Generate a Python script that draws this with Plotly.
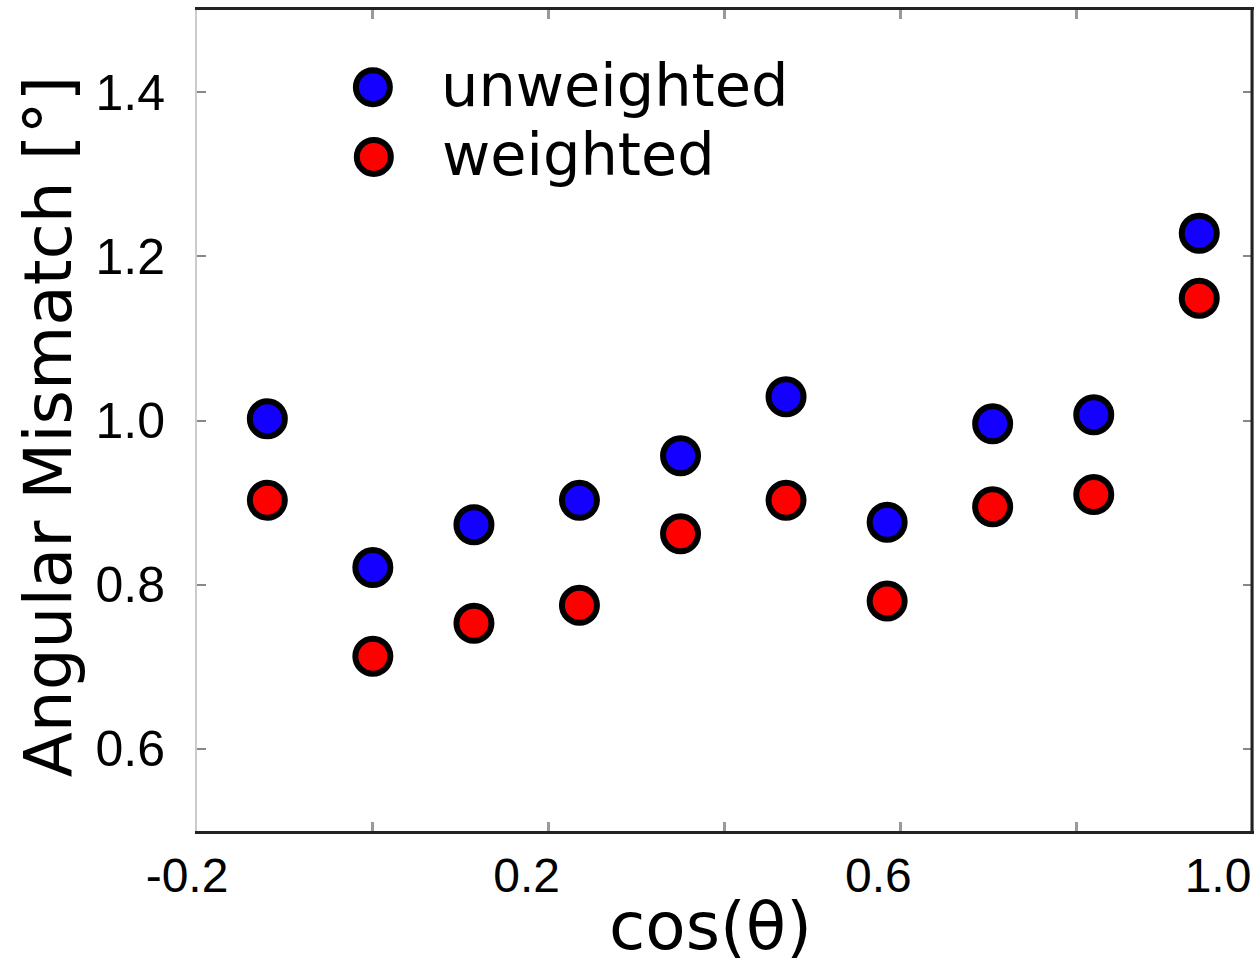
import plotly.graph_objects as go

cos_theta = [-0.12, 0.0, 0.115, 0.235, 0.35, 0.47, 0.585, 0.705, 0.82, 0.94]
unweighted = [1.002, 0.821, 0.873, 0.903, 0.957, 1.029, 0.876, 0.996, 1.007, 1.228]
weighted = [0.903, 0.713, 0.753, 0.775, 0.862, 0.903, 0.780, 0.895, 0.910, 1.149]

x_tickvals = [-0.2, 0.0, 0.2, 0.4, 0.6, 0.8, 1.0]
x_ticktext = ["\u2002-0.2", "", "0.2", "", "0.6", "", "1.0\u2002"]
y_tickvals = [0.6, 0.8, 1.0, 1.2, 1.4]
y_ticktext = ["0.6", "0.8", "1.0", "1.2", "1.4"]

BLUE = "#1400ff"
RED = "#ff0000"

fig = go.Figure()
fig.add_trace(go.Scatter(x=cos_theta, y=unweighted, mode="markers", name="unweighted",
                         marker=dict(size=35, color=BLUE, line=dict(color="black", width=6))))
fig.add_trace(go.Scatter(x=cos_theta, y=weighted, mode="markers", name="weighted",
                         marker=dict(size=35, color=RED, line=dict(color="black", width=6))))

fig.update_layout(
    width=1257, height=960,
    margin=dict(l=197, r=5, t=10, b=129, autoexpand=False),
    paper_bgcolor="white", plot_bgcolor="white",
    showlegend=False,
    xaxis=dict(range=[-0.2, 1.0], tickvals=x_tickvals, ticktext=x_ticktext,
               ticks="inside", ticklen=9, tickwidth=3, tickcolor="#999999",
               showgrid=False, zeroline=False, showline=True, linecolor="#222222",
               linewidth=3, mirror="ticks", ticklabelshift=-22, ticklabelstandoff=0,
               automargin=False, ticklabeloverflow="allow",
               tickfont=dict(family="Liberation Sans", size=48, color="black")),
    yaxis=dict(range=[0.5, 1.5], tickvals=y_tickvals, ticktext=y_ticktext,
               ticks="inside", ticklen=9, tickwidth=2, tickcolor="#888888",
               showgrid=False, zeroline=False, showline=True, linecolor="#cccccc",
               linewidth=2, mirror="ticks", ticklabelstandoff=20,
               automargin=False,
               tickfont=dict(family="Liberation Sans", size=50, color="black")),
)

# right frame line (dark)
fig.add_shape(type="line", xref="paper", yref="paper", x0=1, x1=1, y0=0, y1=1,
              line=dict(color="#222222", width=3))

# legend built from shapes + text
legend_items = [("unweighted", BLUE, 0.1667, 0.906), ("weighted", RED, 0.1676, 0.821)]
for label, col, lx, ly in legend_items:
    fig.add_shape(type="circle", xref="paper", yref="paper", xsizemode="pixel", ysizemode="pixel",
                  xanchor=lx, yanchor=ly, x0=-17, x1=17, y0=-17, y1=17,
                  fillcolor=col, line=dict(color="black", width=6))
    fig.add_annotation(text=label, xref="paper", yref="paper", x=lx, y=ly, xshift=66, yshift=2,
                       xanchor="left", yanchor="middle", showarrow=False,
                       font=dict(family="DejaVu Sans", size=59, color="black"))

fig.add_annotation(text="Angular Mismatch [°]", xref="paper", yref="paper", x=-0.141, y=0.492,
                   textangle=-90, xanchor="center", yanchor="middle", showarrow=False,
                   font=dict(family="DejaVu Sans", size=66, color="black"))
fig.add_annotation(text="cos(θ)", xref="paper", yref="paper", x=0.4867, y=-0.116,
                   xanchor="center", yanchor="middle", showarrow=False,
                   font=dict(family="DejaVu Sans", size=66, color="black"))

fig.write_html("out.html", config={"displayModeBar": False},
               post_script="document.body.style.margin='0';document.body.style.padding='0';")
